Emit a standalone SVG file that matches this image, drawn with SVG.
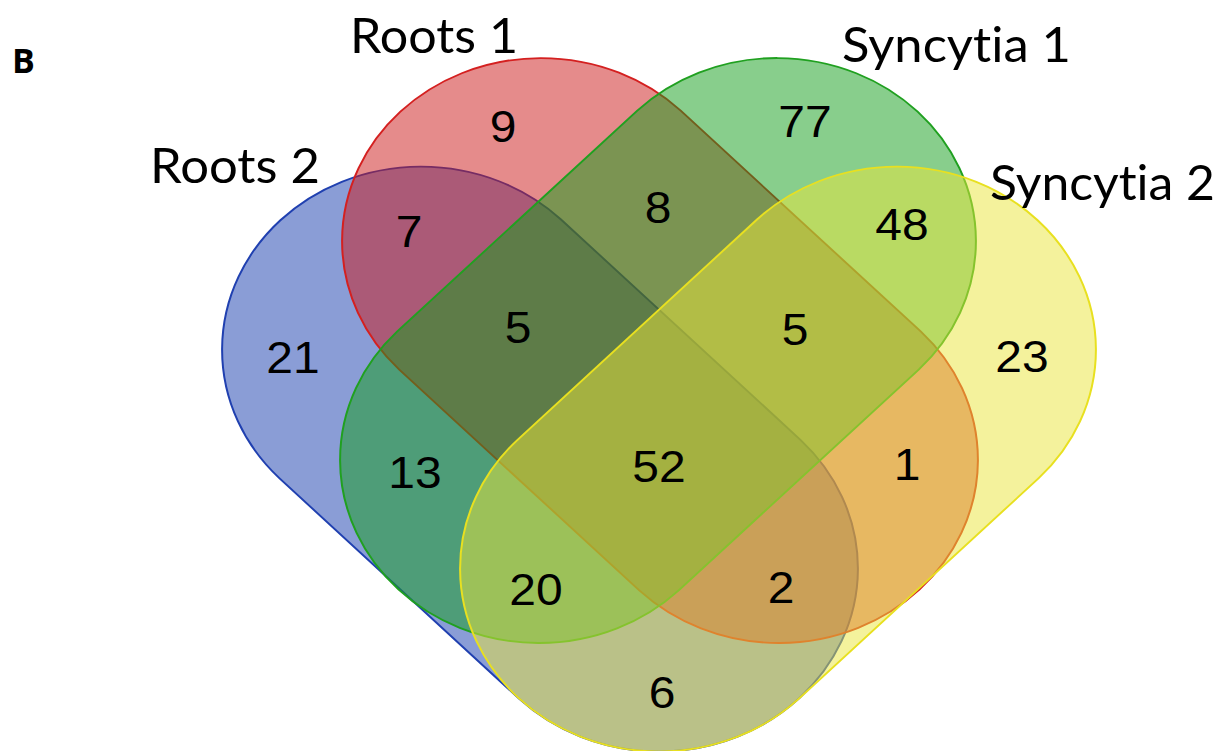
<svg xmlns="http://www.w3.org/2000/svg" width="1222" height="751" viewBox="0 0 1222 751">
  <style>
    .set { fill-opacity: 0.5; stroke-width: 2; }
    .num { font-family: "Liberation Sans", Arial, sans-serif; font-size: 48px; fill: #000; text-anchor: middle; }
    .lbl { font-family: Lato, "Open Sans", sans-serif; font-size: 48px; fill: #000; font-variant-ligatures: none; font-feature-settings: "liga" 0, "clig" 0; }
    .tag { font-family: "Open Sans", "Liberation Sans", sans-serif; font-size: 34px; font-weight: bold; fill: #000; }
  </style>
  <rect width="1222" height="751" fill="#ffffff"/>
  <text class="tag" x="12" y="73">B</text>
  <g transform="scale(1,0.92)">
    <g id="roots2">
      <path class="set" fill="#153BAD" stroke="#2040B0" d="M560.71,238.29 L800.71,478.29 A199,199 0 0 1 519.29,759.71 L279.29,519.71 A199,199 0 0 1 560.71,238.29 Z"/>
    </g>
    <g id="roots1">
      <path class="set" fill="#CB1717" stroke="#D42020" d="M680.71,120.29 L920.71,360.29 A199,199 0 0 1 639.29,641.71 L399.29,401.71 A199,199 0 0 1 680.71,120.29 Z"/>
    </g>
    <g id="syncytia1">
      <path class="set" fill="#119D19" stroke="#20A020" d="M637.29,120.29 A199,199 0 0 1 918.71,401.71 L678.71,641.71 A199,199 0 0 1 397.29,360.29 Z"/>
    </g>
    <g id="syncytia2">
      <path class="set" fill="#E9E539" stroke="#E8E020" d="M757.29,238.29 A199,199 0 0 1 1038.71,519.71 L798.71,759.71 A199,199 0 0 1 517.29,478.29 Z"/>
    </g>
    <g id="counts">
      <text class="num" x="503" y="154.3">9</text>
      <text class="num" x="805" y="148.9">77</text>
      <text class="num" x="658" y="242.4">8</text>
      <text class="num" x="409" y="268.5">7</text>
      <text class="num" x="902" y="260.9">48</text>
      <text class="num" x="293" y="405.4">21</text>
      <text class="num" x="518" y="372.8">5</text>
      <text class="num" x="795" y="375.0">5</text>
      <text class="num" x="1022" y="404.3">23</text>
      <text class="num" x="415" y="530.4">13</text>
      <text class="num" x="659" y="523.9">52</text>
      <text class="num" x="907" y="521.7">1</text>
      <text class="num" x="536" y="657.6">20</text>
      <text class="num" x="781" y="655.4">2</text>
      <text class="num" x="662" y="769.6">6</text>
    </g>
  </g>
  <g id="labels">
    <text class="lbl" x="350" y="53" textLength="168" lengthAdjust="spacingAndGlyphs">Roots 1</text>
    <text class="lbl" x="150" y="183" textLength="170" lengthAdjust="spacingAndGlyphs">Roots 2</text>
    <text class="lbl" x="842" y="62" textLength="229" lengthAdjust="spacingAndGlyphs">Syncytia 1</text>
    <text class="lbl" x="990" y="200" textLength="225" lengthAdjust="spacingAndGlyphs">Syncytia 2</text>
  </g>
</svg>
